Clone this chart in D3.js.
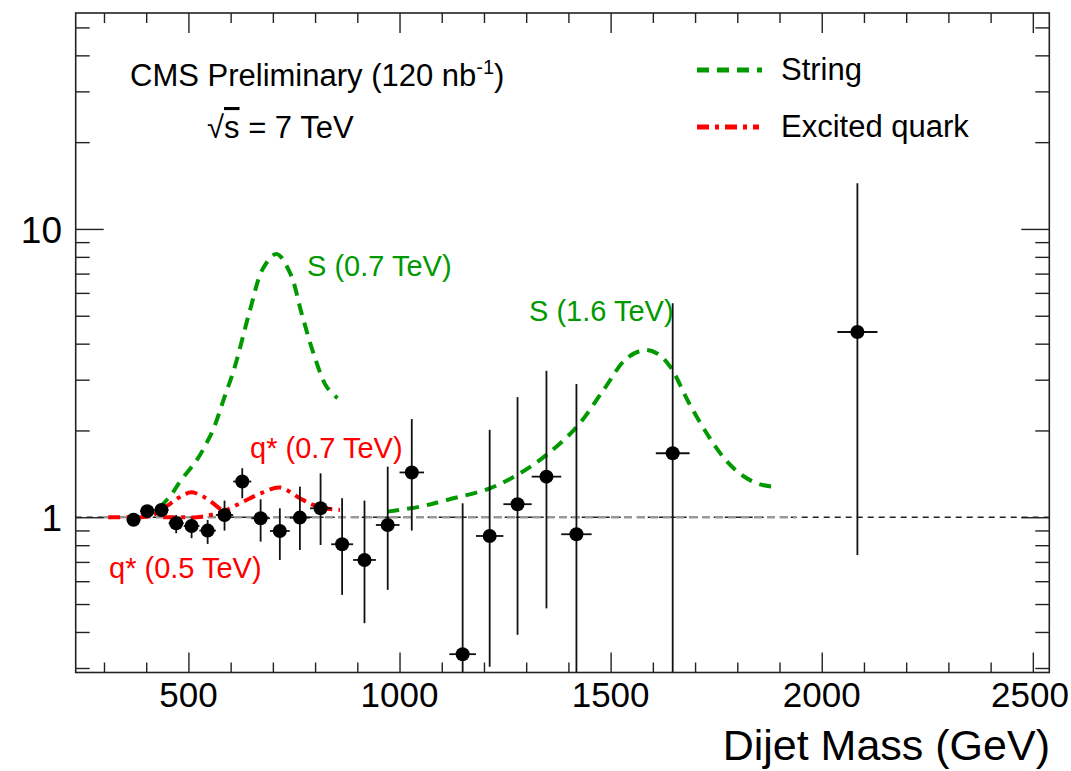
<!DOCTYPE html>
<html>
<head>
  <meta charset="utf-8">
  <script src="https://d3js.org/d3.v7.min.js"></script>
  <style>
    body { margin: 0; background: #fff; }
    text { font-family: "Liberation Sans", Arial, sans-serif; }
  </style>
</head>
<body>
<script type="text/javascript">
  "use strict";

  // data points: bin centre, bin edges, ratio, error band (lo / hi)
  var mass    = [370, 402.5, 436, 471, 507.5, 545.5, 585.5, 627.5, 671, 716.5, 764, 813, 864, 917, 972, 1029, 1149.5, 1213.5, 1279.5, 1348, 1419, 1647, 2084.5];
  var binLow  = [354, 386, 419, 453, 489, 526, 565, 606, 649, 693, 740, 788, 838, 890, 944, 1000, 1118, 1181, 1246, 1313, 1383, 1607, 2037];
  var binHigh = [386, 419, 453, 489, 526, 565, 606, 649, 693, 740, 788, 838, 890, 944, 1000, 1058, 1181, 1246, 1313, 1383, 1455, 1687, 2132];
  var ratio   = [0.98, 1.05, 1.06, 0.953, 0.933, 0.899, 1.018, 1.33, 0.992, 0.896, 0.997, 1.074, 0.806, 0.711, 0.94, 1.43, 0.335, 0.861, 1.11, 1.383, 0.873, 1.667, 4.39];
  var errLow  = [0.97, 1.035, 1.045, 0.880, 0.846, 0.808, 0.899, 1.164, 0.823, 0.711, 0.770, 0.801, 0.538, 0.429, 0.56, 0.899, 0.1, 0.303, 0.391, 0.483, 0.1, 0.1, 0.74];
  var errHigh = [0.99, 1.065, 1.075, 1.018, 0.992, 0.979, 1.142, 1.479, 1.154, 1.074, 1.277, 1.42, 1.164, 1.142, 1.498, 2.19, 1.118, 2.01, 2.61, 3.22, 2.90, 5.52, 14.4];

  // signal curves [mass, ratio]
  var string07 = [[432, 1.08], [460, 1.2], [480, 1.33], [520, 1.58], [543, 1.81], [559, 2.02], [585, 2.6], [610, 3.33],
                  [646, 5.24], [677, 7.31], [709, 8.19], [741, 7.02], [768, 5.1], [796, 3.71], [827, 2.84], [853, 2.59]];
  var string16 = [[971, 1.046], [1048, 1.088], [1112, 1.148], [1214, 1.26], [1285, 1.42], [1348, 1.645], [1420, 2.06],
                  [1483, 2.76], [1538, 3.56], [1581, 3.80], [1610, 3.7], [1641, 3.33], [1685, 2.5], [1734, 1.89],
                  [1774, 1.57], [1814, 1.39], [1854, 1.30], [1898, 1.27]];
  var qstar05  = [[310, 1.0], [360, 1.0], [410, 1.01], [440, 1.07], [470, 1.15], [490, 1.2], [508, 1.22],
                  [530, 1.19], [551, 1.14], [579, 1.06], [595, 1.04]];
  var qstar07  = [[440, 1.0], [480, 1.0], [520, 1.0], [555, 1.02], [590, 1.06], [630, 1.133], [677, 1.22],
                  [717, 1.267], [764, 1.164], [796, 1.103], [830, 1.07], [859, 1.06]];

  var xMajor = [500, 1000, 1500, 2000, 2500];
  var xMinor = [300, 400, 600, 700, 800, 900, 1100, 1200, 1300, 1400, 1600, 1700, 1800, 1900, 2100, 2200, 2300, 2400];
  var yMajor = [1, 10];
  var yMinor = [0.3, 0.4, 0.5, 0.6, 0.7, 0.8, 0.9, 2, 3, 4, 5, 6, 7, 8, 9, 20, 30, 40, 50];

  var width = 1071, height = 771;
  var padL = 75.7, padR = 1049.3, padT = 13, padB = 672.5;
  var green = "#009900", red = "#ff0000";

  var svg = d3.select("body").append("svg")
      .attr("width", width)
      .attr("height", height);

  var x = d3.scaleLinear().domain([233, 2539]).range([padL, padR]);
  var y = d3.scaleLog().domain([0.2894, 56.1]).range([padB, padT]);

  // reference line at 1 (thin black over full range, grey thicker part)
  svg.append("line")
      .attr("x1", padL).attr("x2", padR)
      .attr("y1", y(1)).attr("y2", y(1))
      .attr("stroke", "#222").attr("stroke-width", 1.3)
      .attr("stroke-dasharray", "6,5");
  svg.append("line")
      .attr("x1", x(300)).attr("x2", x(1940))
      .attr("y1", y(1)).attr("y2", y(1))
      .attr("stroke", "#999").attr("stroke-width", 2.4)
      .attr("stroke-dasharray", "8,5");

  var line = d3.line()
      .x(function (d) { return x(d[0]); })
      .y(function (d) { return y(d[1]); })
      .curve(d3.curveCatmullRom);

  [string07, string16].forEach(function (c) {
    svg.append("path").datum(c)
        .attr("d", line)
        .attr("fill", "none").attr("stroke", green)
        .attr("stroke-width", 4).attr("stroke-dasharray", "12,8");
  });
  [qstar05, qstar07].forEach(function (c) {
    svg.append("path").datum(c)
        .attr("d", line)
        .attr("fill", "none").attr("stroke", red)
        .attr("stroke-width", 4).attr("stroke-dasharray", "12,6,4,6");
  });

  // points with error bars
  var yc = function (v) { return Math.min(y(Math.max(v, 0.2894)), padB); };
  var pts = svg.append("g").selectAll("g")
      .data(d3.range(mass.length))
      .enter().append("g");
  pts.append("line")
      .attr("x1", function (i) { return x(mass[i]); })
      .attr("x2", function (i) { return x(mass[i]); })
      .attr("y1", function (i) { return yc(errLow[i]); })
      .attr("y2", function (i) { return yc(errHigh[i]); })
      .attr("stroke", "#111").attr("stroke-width", 1.8);
  pts.append("line")
      .attr("x1", function (i) { return x(binLow[i]); })
      .attr("x2", function (i) { return x(binHigh[i]); })
      .attr("y1", function (i) { return y(ratio[i]); })
      .attr("y2", function (i) { return y(ratio[i]); })
      .attr("stroke", "#111").attr("stroke-width", 1.8);
  pts.append("circle")
      .attr("cx", function (i) { return x(mass[i]); })
      .attr("cy", function (i) { return y(ratio[i]); })
      .attr("r", 7)
      .attr("fill", "#000");

  // frame + ticks on all four sides, pointing inwards
  function ticks(axis, vals, size, tx, ty) {
    var g = svg.append("g")
        .attr("transform", "translate(" + tx + "," + ty + ")")
        .call(axis.tickValues(vals).tickSize(-size).tickFormat(""));
    g.select(".domain").remove();
    g.selectAll(".tick line").attr("stroke", "#222").attr("stroke-width", 1.4);
    return g;
  }
  ticks(d3.axisBottom(x), xMajor, 20, 0, padB);
  ticks(d3.axisBottom(x), xMinor, 10, 0, padB);
  ticks(d3.axisTop(x), xMajor, 20, 0, padT);
  ticks(d3.axisTop(x), xMinor, 10, 0, padT);
  ticks(d3.axisLeft(y), yMajor, 28, padL, 0);
  ticks(d3.axisLeft(y), yMinor, 14, padL, 0);
  ticks(d3.axisRight(y), yMajor, 28, padR, 0);
  ticks(d3.axisRight(y), yMinor, 14, padR, 0);

  svg.append("rect")
      .attr("x", padL).attr("y", padT)
      .attr("width", padR - padL).attr("height", padB - padT)
      .attr("fill", "none").attr("stroke", "#222").attr("stroke-width", 1.6);

  // tick labels (last one pulled in a bit so it stays on the page)
  svg.selectAll(".xlab").data(xMajor).enter().append("text")
      .attr("x", function (d) { return Math.min(x(d), 1030); })
      .attr("y", 707)
      .attr("text-anchor", "middle")
      .style("font-size", "35px")
      .text(function (d) { return d; });
  svg.selectAll(".ylab").data(yMajor).enter().append("text")
      .attr("x", 62)
      .attr("y", function (d) { return y(d) + 14; })
      .attr("text-anchor", "end")
      .style("font-size", "37px")
      .text(function (d) { return d; });

  svg.append("text")
      .attr("x", 1050).attr("y", 760)
      .attr("text-anchor", "end")
      .style("font-size", "43px")
      .text("Dijet Mass (GeV)");

  // header text
  var cms = svg.append("text")
      .attr("x", 130).attr("y", 86)
      .style("font-size", "31px");
  cms.append("tspan").text("CMS Preliminary (120 nb");
  cms.append("tspan").attr("dy", -12).style("font-size", "20px").text("-1");
  cms.append("tspan").attr("dy", 12).text(")");

  var rs = svg.append("text")
      .attr("x", 207).attr("y", 138)
      .style("font-size", "31px");
  rs.append("tspan").text("\u221A");
  rs.append("tspan").style("text-decoration", "overline").text("s");
  rs.append("tspan").text(" = 7 TeV");

  // legend
  svg.append("line")
      .attr("x1", 697).attr("x2", 762).attr("y1", 70).attr("y2", 70)
      .attr("stroke", green).attr("stroke-width", 5).attr("stroke-dasharray", "12,8");
  svg.append("text").attr("x", 781).attr("y", 80).style("font-size", "31px").text("String");
  svg.append("line")
      .attr("x1", 697).attr("x2", 759).attr("y1", 127).attr("y2", 127)
      .attr("stroke", red).attr("stroke-width", 5).attr("stroke-dasharray", "12,6,4,6");
  svg.append("text").attr("x", 781).attr("y", 137).style("font-size", "31px").text("Excited quark");

  // curve annotations
  var notes = [
    {t: "S (0.7 TeV)", x: 307, y: 276, c: green},
    {t: "S (1.6 TeV)", x: 529, y: 321, c: green},
    {t: "q* (0.7 TeV)", x: 250, y: 458, c: red},
    {t: "q* (0.5 TeV)", x: 109, y: 578, c: red}
  ];
  svg.selectAll(".note").data(notes).enter().append("text")
      .attr("x", function (d) { return d.x; })
      .attr("y", function (d) { return d.y; })
      .attr("fill", function (d) { return d.c; })
      .style("font-size", "29px")
      .text(function (d) { return d.t; });
</script>
</body>
</html>
